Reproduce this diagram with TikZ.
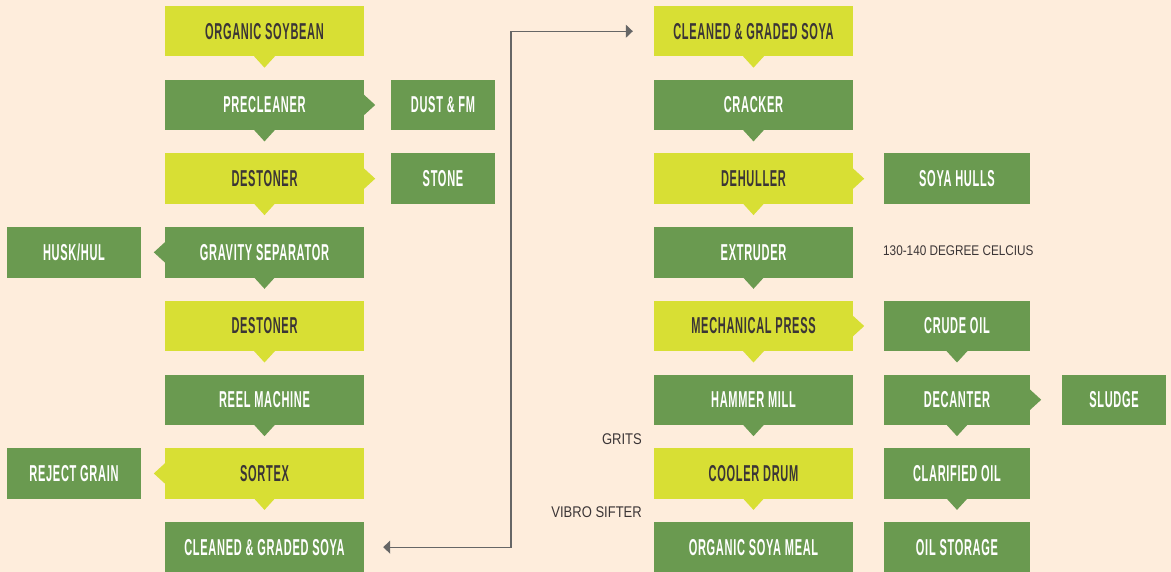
\documentclass[tikz,border=0pt]{standalone}
\usepackage{fontspec}
\usetikzlibrary{arrows.meta}
\newfontfamily\lblfont{Liberation Sans}[FakeStretch=0.48,LetterSpace=3]
\newfontfamily\notefont{Liberation Sans}[FakeStretch=0.84]
\definecolor{bgpeach}{HTML}{FEEDDC}
\definecolor{limefill}{HTML}{D8DF34}
\definecolor{leaffill}{HTML}{6A9A50}
\definecolor{inkdark}{HTML}{3B3536}
\definecolor{wiregray}{HTML}{666666}
\tikzset{
 box/.style={rectangle, inner sep=0pt, minimum height=50.5pt, font=\lblfont\bfseries\fontsize{23}{23}\selectfont},
 limebox/.style={box, fill=limefill, text=inkdark},
 leafbox/.style={box, fill=leaffill, text=white},
 wide/.style={minimum width=199pt},
 mid/.style={minimum width=146pt},
 narrow/.style={minimum width=104pt},
 side/.style={minimum width=134pt},
 note/.style={font=\notefont\fontsize{14}{14}\selectfont, text=inkdark, inner sep=0pt},
 notebig/.style={font=\notefont\fontsize{15.5}{15.5}\selectfont, text=inkdark, inner sep=0pt},
 link/.style={draw=wiregray, line width=1.3pt, {Triangle[length=7pt,width=13pt]}-{Triangle[length=7pt,width=13pt]}}
}
\newcommand\tipdown[2]{\fill[#2] ([xshift=-10.5pt,yshift=0.5pt]#1.south) -- ([xshift=10.5pt,yshift=0.5pt]#1.south) -- ([yshift=-11pt]#1.south) -- cycle;}
\newcommand\tipright[2]{\fill[#2] ([xshift=-0.5pt,yshift=10.5pt]#1.east) -- ([xshift=11pt]#1.east) -- ([xshift=-0.5pt,yshift=-10.5pt]#1.east) -- cycle;}
\newcommand\tipleft[2]{\fill[#2] ([xshift=0.5pt,yshift=10.5pt]#1.west) -- ([xshift=-11pt]#1.west) -- ([xshift=0.5pt,yshift=-10.5pt]#1.west) -- cycle;}
\begin{document}
\begin{tikzpicture}[x=1pt,y=-1pt]
\fill[bgpeach] (0,0) rectangle (1171,572);
\useasboundingbox (0,0) rectangle (1171,572);
% left column
\node[limebox,wide] (l1) at (264.5,31.25) {ORGANIC SOYBEAN};
\node[leafbox,wide] (l2) at (264.5,104.95) {PRECLEANER};
\node[limebox,wide] (l3) at (264.5,178.65) {DESTONER};
\node[leafbox,wide] (l4) at (264.5,252.35) {GRAVITY SEPARATOR};
\node[limebox,wide] (l5) at (264.5,326.05) {DESTONER};
\node[leafbox,wide] (l6) at (264.5,399.75) {REEL MACHINE};
\node[limebox,wide] (l7) at (264.5,473.45) {SORTEX};
\node[leafbox,wide] (l8) at (264.5,547.15) {CLEANED \& GRADED SOYA};
\node[leafbox,narrow] (dust) at (443,104.95) {DUST \& FM};
\node[leafbox,narrow] (stone) at (443,178.65) {STONE};
\node[leafbox,side] (husk) at (74,252.35) {HUSK/HUL};
\node[leafbox,side] (reject) at (74,473.45) {REJECT GRAIN};
\tipdown{l1}{limefill}
\tipdown{l2}{leaffill}
\tipdown{l3}{limefill}
\tipdown{l4}{leaffill}
\tipdown{l5}{limefill}
\tipdown{l6}{leaffill}
\tipdown{l7}{limefill}
\tipright{l2}{leaffill}
\tipright{l3}{limefill}
\tipleft{l4}{leaffill}
\tipleft{l7}{limefill}
% middle column
\node[limebox,wide] (m1) at (753.5,31.25) {CLEANED \& GRADED SOYA};
\node[leafbox,wide] (m2) at (753.5,104.95) {CRACKER};
\node[limebox,wide] (m3) at (753.5,178.65) {DEHULLER};
\node[leafbox,wide] (m4) at (753.5,252.35) {EXTRUDER};
\node[limebox,wide] (m5) at (753.5,326.05) {MECHANICAL PRESS};
\node[leafbox,wide] (m6) at (753.5,399.75) {HAMMER MILL};
\node[limebox,wide] (m7) at (753.5,473.45) {COOLER DRUM};
\node[leafbox,wide] (m8) at (753.5,547.15) {ORGANIC SOYA MEAL};
\tipdown{m1}{limefill}
\tipdown{m2}{leaffill}
\tipdown{m3}{limefill}
\tipdown{m4}{leaffill}
\tipdown{m5}{limefill}
\tipdown{m6}{leaffill}
\tipdown{m7}{limefill}
\tipright{m3}{limefill}
\tipright{m5}{limefill}
% right column
\node[leafbox,mid] (hulls) at (957,178.65) {SOYA HULLS};
\node[leafbox,mid] (crude) at (957,326.05) {CRUDE OIL};
\node[leafbox,mid] (decant) at (957,399.75) {DECANTER};
\node[leafbox,mid] (clar) at (957,473.45) {CLARIFIED OIL};
\node[leafbox,mid] (store) at (957,547.15) {OIL STORAGE};
\node[leafbox,narrow] (sludge) at (1114,399.75) {SLUDGE};
\tipdown{crude}{leaffill}
\tipdown{decant}{leaffill}
\tipdown{clar}{leaffill}
\tipright{decant}{leaffill}
% notes
\node[note,anchor=west] (temp) at (883,251) {130-140 DEGREE CELCIUS};
\node[notebig,anchor=east] (grits) at (642,439) {GRITS};
\node[notebig,anchor=east] (vibro) at (642,512) {VIBRO SIFTER};
% connector
\coordinate (jog) at (511,300);
\draw[link] ([xshift=19pt]l8.east) -- (l8.east -| jog) |- ([xshift=-21pt]m1.west);
\end{tikzpicture}
\end{document}
